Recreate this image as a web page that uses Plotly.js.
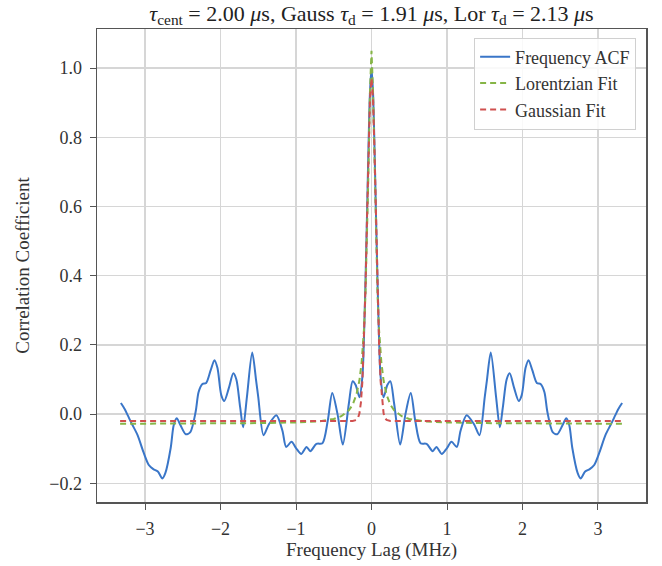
<!DOCTYPE html>
<html><head><meta charset="utf-8">
<script src="https://cdn.plot.ly/plotly-3.0.1.min.js"></script>
<style>body{margin:0;background:#fff}</style>
</head><body><div id="chart" style="width:662px;height:566px"></div>
<script>
const acfLag = [-3.32,-3.27,-3.23,-3.17,-3.10,-3.02,-2.95,-2.89,-2.83,-2.77,-2.73,-2.66,-2.62,-2.58,-2.53,-2.46,-2.40,-2.33,-2.29,-2.24,-2.19,-2.13,-2.08,-2.04,-1.99,-1.95,-1.89,-1.83,-1.79,-1.74,-1.70,-1.65,-1.58,-1.53,-1.50,-1.43,-1.36,-1.26,-1.18,-1.13,-1.06,-1.00,-0.93,-0.86,-0.81,-0.73,-0.65,-0.58,-0.52,-0.45,-0.38,-0.30,-0.25,-0.21,-0.16,-0.12,-0.10,-0.08,-0.06,-0.04,-0.02,0,
0.02,0.04,0.06,0.08,0.10,0.12,0.16,0.21,0.25,0.30,0.38,0.45,0.52,0.58,0.65,0.73,0.81,0.86,0.93,1.00,1.06,1.13,1.18,1.26,1.36,1.43,1.50,1.53,1.58,1.65,1.70,1.74,1.79,1.83,1.89,1.95,1.99,2.04,2.08,2.13,2.19,2.24,2.29,2.33,2.40,2.46,2.53,2.58,2.62,2.66,2.73,2.77,2.83,2.89,2.95,3.02,3.10,3.17,3.23,3.27,3.32];
const acfValue = [0.032,0.015,-0.003,-0.030,-0.060,-0.110,-0.147,-0.159,-0.166,-0.186,-0.170,-0.098,-0.032,-0.012,-0.032,-0.058,-0.052,0.006,0.064,0.087,0.090,0.127,0.156,0.133,0.055,0.038,0.075,0.118,0.100,0.020,-0.038,0.050,0.178,0.100,0.049,-0.061,-0.030,-0.003,-0.048,-0.095,-0.080,-0.098,-0.115,-0.095,-0.107,-0.086,-0.084,-0.020,0.061,0.000,-0.088,0.030,0.095,0.084,0.049,0.110,0.220,0.380,0.570,0.770,0.930,1.000,
0.930,0.770,0.570,0.380,0.220,0.110,0.049,0.084,0.095,0.030,-0.088,0.000,0.061,-0.020,-0.084,-0.086,-0.107,-0.095,-0.115,-0.098,-0.080,-0.095,-0.048,-0.003,-0.030,-0.061,0.049,0.100,0.178,0.050,-0.038,0.020,0.100,0.118,0.075,0.038,0.055,0.133,0.156,0.127,0.090,0.087,0.064,0.006,-0.052,-0.058,-0.032,-0.012,-0.032,-0.098,-0.170,-0.186,-0.166,-0.159,-0.147,-0.110,-0.060,-0.030,-0.003,0.015,0.032];

const lorLag = [-3.33,-2.5,-2.0,-1.5,-1.0,-0.7,-0.5,-0.4,-0.3,-0.25,-0.2,-0.16,-0.13,-0.10,-0.08,-0.06,-0.04,-0.02,0,0.02,0.04,0.06,0.08,0.10,0.13,0.16,0.2,0.25,0.3,0.4,0.5,0.7,1.0,1.5,2.0,2.5,3.33];
const lorValue = [-0.028,-0.028,-0.027,-0.026,-0.024,-0.021,-0.014,-0.006,0.011,0.027,0.056,0.097,0.151,0.243,0.344,0.493,0.702,0.935,1.050,0.935,0.702,0.493,0.344,0.243,0.151,0.097,0.056,0.027,0.011,-0.006,-0.014,-0.021,-0.024,-0.026,-0.027,-0.028,-0.028];

const gaussLag = [-3.33,-1.0,-0.3,-0.25,-0.2,-0.18,-0.16,-0.14,-0.12,-0.10,-0.08,-0.06,-0.04,-0.02,0,0.02,0.04,0.06,0.08,0.10,0.12,0.14,0.16,0.18,0.2,0.25,0.3,1.0,3.33];
const gaussValue = [-0.020,-0.020,-0.020,-0.020,-0.017,-0.012,0.002,0.034,0.097,0.204,0.362,0.560,0.760,0.913,0.970,0.913,0.760,0.560,0.362,0.204,0.097,0.034,0.002,-0.012,-0.017,-0.020,-0.020,-0.020,-0.020];

const xTicks = [-3,-2,-1,0,1,2,3];
const yTicks = [-0.2,0,0.2,0.4,0.6,0.8,1.0];
const seriesNames = ['Frequency ACF','Lorentzian Fit','Gaussian Fit'];
const titleText = '<i>τ</i><sub>cent</sub> = 2.00 <i>μ</i>s, Gauss <i>τ</i><sub>d</sub> = 1.91 <i>μ</i>s, Lor <i>τ</i><sub>d</sub> = 2.13 <i>μ</i>s';

const font = 'Liberation Serif, Times New Roman, serif';
const spine = '#555555';
const grid = '#d6d6d6';

const traces = [
  {x: acfLag, y: acfValue, name: seriesNames[0], mode: 'lines',
   line: {color: '#3a76c8', width: 2, shape: 'spline', smoothing: 0.8}},
  {x: lorLag, y: lorValue, name: seriesNames[1], mode: 'lines',
   line: {color: '#86b547', width: 2, dash: '6px,4px'}},
  {x: gaussLag, y: gaussValue, name: seriesNames[2], mode: 'lines',
   line: {color: '#d0504f', width: 2, dash: '6px,4px'}}
];

const axisCommon = {
  showline: true, mirror: true, linecolor: spine, linewidth: 1.5,
  ticks: 'outside', ticklen: 6, tickwidth: 1, tickcolor: spine,
  showgrid: true, gridcolor: grid, gridwidth: 1.3, zeroline: false,
  ticklabelstandoff: 4,
  tickfont: {family: font, size: 18, color: '#333'}
};

const layout = {
  width: 662, height: 566,
  margin: {l: 97, r: 16, t: 29, b: 64},
  paper_bgcolor: '#fff', plot_bgcolor: '#fff',
  font: {family: font, color: '#333'},
  title: {text: titleText, font: {family: font, size: 22, color: '#222'},
          x: 0.5, xref: 'paper', xanchor: 'center', y: 0.977, yref: 'container', yanchor: 'middle'},
  xaxis: Object.assign({}, axisCommon, {
    range: [-3.636, 3.636], tickvals: xTicks, ticktext: xTicks.map(v => v < 0 ? '\u2212' + Math.abs(v) : String(v)),
    title: {text: 'Frequency Lag (MHz)', font: {family: font, size: 19, color: '#333'}, standoff: 4}
  }),
  yaxis: Object.assign({}, axisCommon, {
    range: [-0.254, 1.113], tickvals: yTicks, ticktext: yTicks.map(v => (v < 0 ? '\u2212' : '') + Math.abs(v).toFixed(1)),
    title: {text: 'Correlation Coefficient', font: {family: font, size: 19, color: '#333'}, standoff: 14}
  }),
  legend: {x: 0.982, y: 0.982, xanchor: 'right', yanchor: 'top',
           bgcolor: 'rgba(255,255,255,0.85)', bordercolor: '#d0d0d0', borderwidth: 1,
           font: {family: font, size: 18, color: '#333'}},
  showlegend: true
};

Plotly.newPlot('chart', traces, layout, {displayModeBar: false, staticPlot: true});
</script>
</body></html>
